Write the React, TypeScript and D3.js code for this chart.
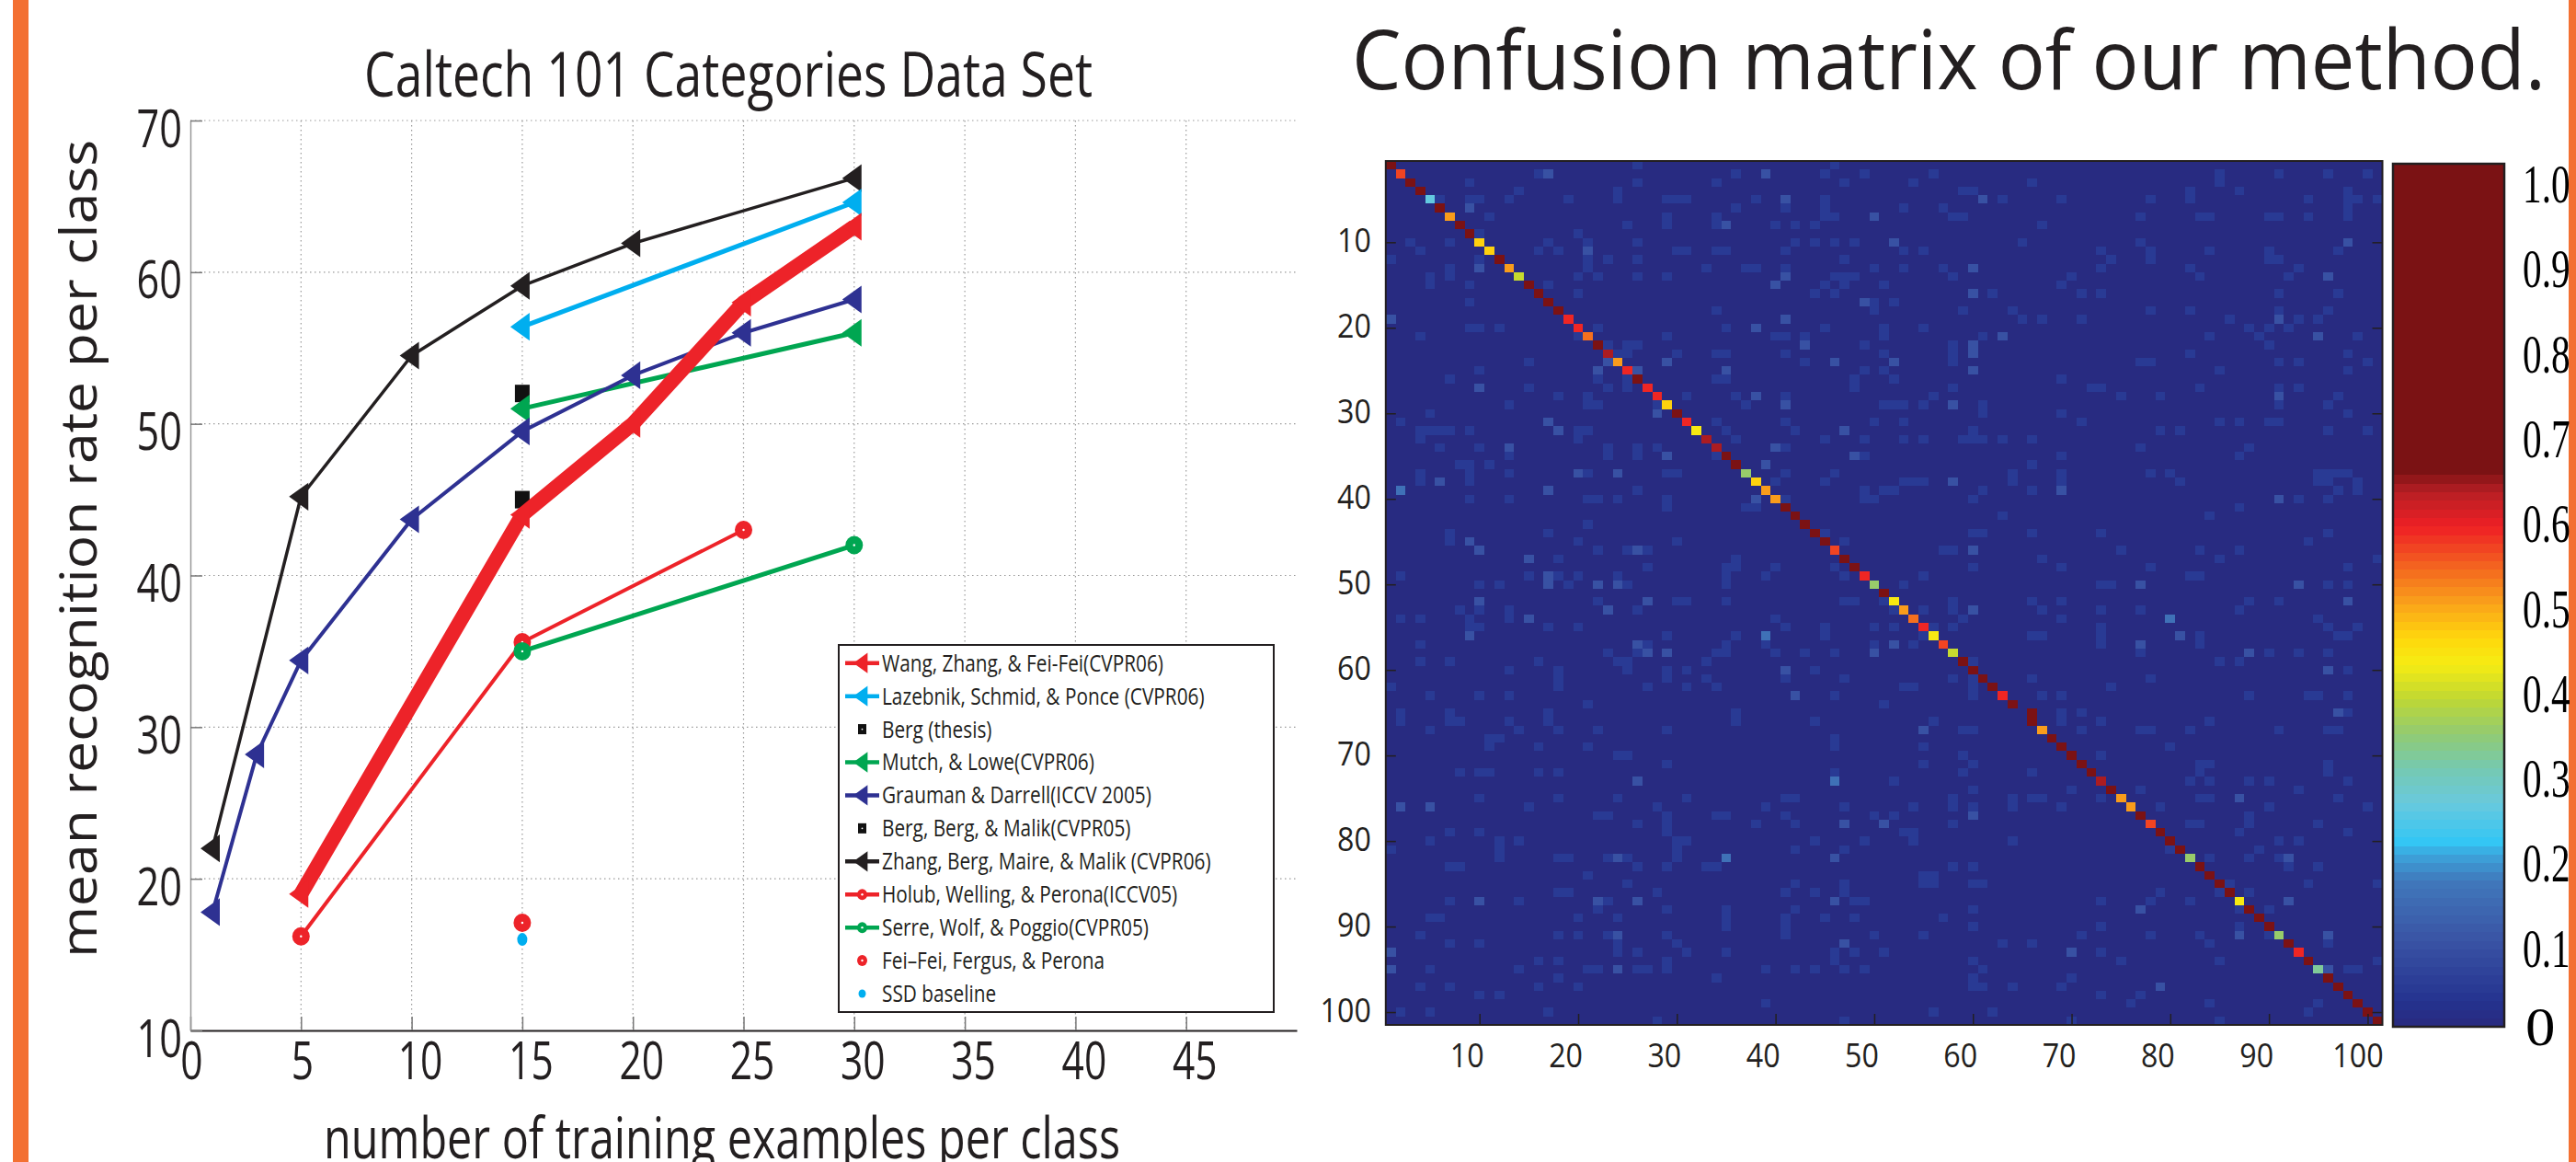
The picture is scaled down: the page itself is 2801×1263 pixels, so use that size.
import React, { useEffect, useRef } from "react";
import * as d3 from "d3";

const WIDTH = 2801;
const HEIGHT = 1263;
const SANS = "'Open Sans', sans-serif";
const SERIF = "'Liberation Serif', serif";

// ---- left chart: recognition rate series
const xTicks = [0, 5, 10, 15, 20, 25, 30, 35, 40, 45];
const yTicks = [10, 20, 30, 40, 50, 60, 70];

const wangX = [5, 15, 20, 25, 30];
const wangY = [19, 44, 50, 58, 63];
const lazebnikX = [15, 30];
const lazebnikY = [56.4, 64.6];
const bergThesisX = [15];
const bergThesisY = [52];
const mutchX = [15, 30];
const mutchY = [51, 56];
const graumanX = [1, 3, 5, 10, 15, 20, 25, 30];
const graumanY = [17.8, 28.2, 34.4, 43.7, 49.5, 53.2, 56, 58.2];
const bergX = [15];
const bergY = [45];
const zhangX = [1, 5, 10, 15, 20, 30];
const zhangY = [22, 45.2, 54.5, 59.1, 61.9, 66.2];
const holubX = [5, 15, 25];
const holubY = [16.2, 35.6, 43];
const serreX = [15, 30];
const serreY = [35, 42];
const feiFeiX = [15];
const feiFeiY = [17.1];
const ssdX = [15];
const ssdY = [16];

const RED = "#ed2329";
const CYAN = "#00aeef";
const BLACK = "#231f20";
const GREEN = "#00a651";
const BLUE = "#2e3192";

// legend order
const series = [
  { name: "Wang, Zhang, & Fei-Fei(CVPR06)", xs: wangX, ys: wangY, color: RED, width: 16, marker: "tri" },
  { name: "Lazebnik, Schmid, & Ponce (CVPR06)", xs: lazebnikX, ys: lazebnikY, color: CYAN, width: 5, marker: "tri" },
  { name: "Berg (thesis)", xs: bergThesisX, ys: bergThesisY, color: "#111", width: 0, marker: "square" },
  { name: "Mutch, & Lowe(CVPR06)", xs: mutchX, ys: mutchY, color: GREEN, width: 5, marker: "tri" },
  { name: "Grauman & Darrell(ICCV 2005)", xs: graumanX, ys: graumanY, color: BLUE, width: 4, marker: "tri" },
  { name: "Berg, Berg, & Malik(CVPR05)", xs: bergX, ys: bergY, color: "#111", width: 0, marker: "square" },
  { name: "Zhang, Berg, Maire, & Malik (CVPR06)", xs: zhangX, ys: zhangY, color: BLACK, width: 3.5, marker: "tri" },
  { name: "Holub, Welling, & Perona(ICCV05)", xs: holubX, ys: holubY, color: RED, width: 4, marker: "dot" },
  { name: "Serre, Wolf, & Poggio(CVPR05)", xs: serreX, ys: serreY, color: GREEN, width: 5, marker: "dot" },
  { name: "Fei\u2013Fei, Fergus, & Perona", xs: feiFeiX, ys: feiFeiY, color: RED, width: 0, marker: "dot" },
  { name: "SSD baseline", xs: ssdX, ys: ssdY, color: CYAN, width: 0, marker: "small" },
];
// paint order on the plot (thick red goes over the squares and the blue line)
const paintOrder = [2, 5, 6, 1, 3, 4, 0, 7, 8, 9, 10];

// ---- right chart: confusion matrix
const CLASSES = 101;
const matrixTicks = [10, 20, 30, 40, 50, 60, 70, 80, 90, 100];
const colorbarLabels = [0, 0.1, 0.2, 0.3, 0.4, 0.5, 0.6, 0.7, 0.8, 0.9, 1];

const cmapStops = [0, 0.03, 0.1, 0.17, 0.2, 0.215, 0.26, 0.3, 0.34, 0.38, 0.42, 0.45, 0.49, 0.53, 0.58, 0.62, 0.645, 1];
const cmapColors = [
  "#29297e", "#24338f", "#3953a4", "#4079bc", "#3ca5dc", "#34c6f4", "#69c9dd", "#75c9b0", "#92cb72",
  "#bfd733", "#f5ec13", "#ffd80c", "#faa31a", "#f4691f", "#ee1f25", "#b71f24", "#7b1214", "#7b1214",
];

// diagonal, row 1 to 101 (row 65 has its peak one column over)
const diagonal = [
  0.8, 0.55, 0.8, 0.8, 0.25, 0.8, 0.49, 0.8, 0.8, 0.45,
  0.45, 0.8, 0.49, 0.38, 0.8, 0.8, 0.8, 0.8, 0.58, 0.58,
  0.52, 0.8, 0.62, 0.49, 0.58, 0.8, 0.58, 0.58, 0.45, 0.8,
  0.58, 0.42, 0.62, 0.62, 0.7, 0.8, 0.34, 0.45, 0.49, 0.49,
  0.8, 0.8, 0.8, 0.8, 0.7, 0.55, 0.8, 0.7, 0.58, 0.34,
  0.8, 0.42, 0.49, 0.52, 0.58, 0.42, 0.55, 0.38, 0.8, 0.64,
  0.7, 0.8, 0.58, 0.8, 0, 0.64, 0.49, 0.8, 0.8, 0.8,
  0.8, 0.8, 0.62, 0.8, 0.49, 0.49, 0.7, 0.55, 0.8, 0.7,
  0.8, 0.34, 0.7, 0.8, 0.8, 0.8, 0.42, 0.8, 0.8, 0.8,
  0.34, 0.8, 0.58, 0.8, 0.31, 0.8, 0.64, 0.8, 0.8, 0.7,
  0.64,
];

// off-diagonal confusions: index is row - 1, entries are columns
const weakByRow = [
  [26, 46],
  [16, 36, 45, 49, 56, 85, 91, 96, 100],
  [9, 26, 34, 47, 54, 66, 85],
  [14, 24, 59, 60, 82, 87, 98],
  [6, 9, 10, 13, 19, 24, 29, 30, 31, 38, 45, 63, 69, 78, 82, 94, 98, 99, 101],
  [36, 41, 45, 53, 57, 98],
  [11, 29, 34, 45, 46, 58, 59, 77, 83, 84, 90, 91, 94, 98],
  [25, 29, 34, 40, 42, 44, 67],
  [10, 20],
  [3, 7, 17, 21, 26, 42, 44, 46, 48, 65, 77],
  [4, 16, 18, 30, 31, 34, 35, 41, 53, 55, 73, 78, 84, 90, 97],
  [1, 10, 21, 23, 26, 47, 74, 78, 90, 91],
  [7, 21, 33, 37, 38, 41, 50, 53, 57, 73, 82, 93],
  [5, 7, 20, 22, 26, 29, 46, 47, 48, 58, 70, 83, 92],
  [5, 9, 17, 45, 47, 51, 69],
  [20, 44, 46, 62, 71, 73, 91, 97],
  [9, 50, 52],
  [34, 50, 59, 64, 78, 82, 91, 96],
  [65, 67, 71, 86, 93, 95],
  [9, 10, 12, 22, 35, 45, 51, 55, 88, 90, 92],
  [4, 20, 29, 40, 41, 43, 51, 61, 84, 89, 99],
  [23, 25, 26, 49, 58, 90],
  [24, 25, 30, 34, 35, 41, 51, 58, 82, 98],
  [15, 43, 58, 77, 78, 91, 93, 100],
  [10, 49, 51, 85, 98],
  [7, 22, 25, 34, 35, 48, 52, 69],
  [15, 23, 25, 48, 58, 72, 73, 83, 91, 93],
  [18, 21, 31, 36, 41, 56, 75, 79, 97],
  [13, 21, 22, 28, 37, 51, 52, 53, 55, 61, 91, 96],
  [5, 61, 69, 98],
  [2, 34, 41, 50, 53, 71, 85, 87, 90, 91],
  [4, 5, 6, 7, 9, 20, 21, 35, 42, 60, 79, 81, 96, 100],
  [4, 20, 36, 45, 49, 53, 55, 59, 60, 61, 63, 66],
  [6, 10, 23, 26, 28, 41, 77, 88],
  [13, 23, 26, 34, 49, 69, 87],
  [8, 9, 11, 66],
  [4, 9, 13, 21, 29, 30, 41, 46, 64, 69, 78, 80, 95, 96, 97, 98],
  [4, 9, 40, 45, 53, 54, 55, 64, 69, 81, 95, 96, 99],
  [26, 49, 51, 52, 61, 66, 97, 99],
  [9, 13, 21, 22, 24, 29, 41, 49, 50, 60, 93, 96],
  [29, 37, 38, 87],
  [63, 84],
  [21],
  [7, 17, 45, 60, 61, 66, 73, 96],
  [7, 20, 30, 47, 94],
  [22, 25, 27, 57, 58, 75, 83, 87],
  [18, 36, 67, 85, 101],
  [27, 35, 36, 40, 46, 60, 69, 78, 98],
  [2, 15, 18, 20, 24, 35, 39, 47, 55, 82, 83],
  [10, 12, 19, 25, 35, 53, 73, 74, 96, 98],
  [],
  [22, 30, 31, 35, 47, 48, 51, 58, 66, 69, 88, 91],
  [8, 10, 13, 26, 52, 55, 58, 67, 73, 77, 87],
  [2, 4, 9, 13, 40, 59, 69, 95],
  [9, 10, 17, 20, 41, 45, 50, 52, 56, 58, 73, 96, 99],
  [29, 36, 45, 55, 66, 67, 73, 83, 97, 98],
  [4, 27, 35, 39, 50, 54, 73, 83],
  [23, 26, 34, 35, 40, 43, 46, 77, 90, 93, 96],
  [4, 7, 16, 24, 25, 33, 60, 85, 87],
  [13, 18, 25, 29, 31, 44, 98],
  [18, 29, 33, 41, 47, 58, 60, 66, 78],
  [1, 18, 27, 31, 34, 53, 54, 60, 74],
  [5, 10, 13, 46, 60, 67, 69, 88, 94, 95, 98],
  [21, 51],
  [2, 7, 17, 36, 69, 71, 98],
  [2, 7, 8, 13, 17, 36, 44, 56, 69, 73, 84],
  [5, 14, 18, 22, 29, 59, 60, 71, 77, 78, 82, 91, 96, 97],
  [11, 12, 46],
  [11, 16, 21, 46, 55, 80],
  [24, 25, 59, 73],
  [29, 55, 60, 83, 84, 96],
  [8, 10, 11, 16, 18, 46, 59, 66, 83, 96],
  [52, 82, 84, 88, 90, 98],
  [60, 70, 77, 93],
  [10, 18, 24, 31, 41, 42, 58, 64, 66, 67, 73, 83, 84, 97],
  [15, 28, 39, 47, 54, 58, 60, 64, 69, 79, 90, 100],
  [22, 23, 29, 34, 35, 41, 50, 52, 88],
  [26, 29, 38, 42, 58, 82, 83, 88, 95],
  [7, 10, 29, 53, 54, 87, 98],
  [5, 12, 14, 30, 31, 44, 49, 54, 64, 91, 93],
  [1, 12, 30, 42, 47, 80, 89],
  [12, 18, 19, 23, 25, 30, 84, 88, 91],
  [7, 8, 26, 29, 33, 34, 58, 60, 92, 95],
  [21, 55, 56],
  [25, 42, 47, 55, 56, 60, 61, 86, 94, 101],
  [18, 19, 28, 41, 44, 47, 79, 85, 88],
  [7, 14, 23, 48, 49, 73, 78, 82],
  [22, 29, 35, 42, 60, 87, 90],
  [5, 6, 20, 24, 35, 41, 45, 48, 57],
  [35, 41, 60, 73, 87],
  [4, 18, 20, 23, 29, 41, 50, 55, 71, 78, 83, 90],
  [7, 10, 24, 30, 63, 66, 84, 96],
  [24, 26, 31, 35, 46, 48, 51, 73],
  [16, 18, 29, 46, 60, 75, 85, 101],
  [5, 14, 21, 22, 26, 27, 29, 39, 42, 44, 47, 49, 61, 98, 99],
  [18, 34, 60, 70],
  [4, 7, 16, 20, 60, 61, 64, 69],
  [10, 12, 73, 77],
  [39, 76, 84, 95],
  [2, 5, 17, 56, 62, 94],
  [28, 47, 70, 85],
];
// stronger ones as [row, col]
const midCells = [
  [2, 17], [2, 39], [5, 41], [5, 61], [6, 9], [7, 50], [8, 35], [10, 52], [10, 98], [11, 21], [13, 10], [13, 60],
  [14, 41], [14, 96], [15, 40], [16, 60], [17, 49], [19, 1], [19, 41], [19, 91], [20, 38], [21, 63], [21, 95],
  [22, 43], [22, 60], [23, 60], [24, 23], [24, 29], [24, 46], [24, 52], [25, 22], [25, 26], [25, 35], [25, 60],
  [27, 10], [28, 38], [28, 91], [29, 41], [29, 58], [30, 28], [31, 17], [32, 18], [32, 47], [34, 13], [34, 40],
  [35, 29], [35, 48], [36, 39], [37, 20], [37, 24], [38, 6], [38, 58], [39, 17], [39, 69], [40, 38], [40, 91],
  [45, 9], [46, 10], [46, 26], [46, 60], [47, 15], [49, 17], [50, 17], [50, 22], [50, 24], [50, 77], [50, 93],
  [52, 10], [52, 27], [52, 98], [53, 23], [53, 60], [54, 15], [56, 9], [56, 81], [57, 26], [57, 52], [57, 77],
  [58, 27], [58, 29], [58, 50], [58, 88], [60, 41], [60, 96], [63, 42], [65, 97], [67, 55], [73, 26], [75, 87],
  [76, 2], [76, 5], [77, 60], [78, 47], [78, 51], [82, 24], [82, 46], [82, 92], [87, 10], [87, 22], [87, 26],
  [87, 46], [87, 92], [88, 77], [91, 24], [91, 87], [91, 96], [92, 47], [93, 1], [93, 70], [95, 1], [95, 24],
  [95, 96], [97, 79],
];
const brightCells = [[39, 2], [54, 80], [56, 39], [73, 46], [82, 35]];
const displacedPeaks = [[65, 66]];

// left-pointing triangle for d3.symbol, stretched taller than wide
const leftTriangle = {
  draw(ctx: any, size: number) {
    const r = Math.sqrt(size);
    ctx.moveTo(-0.62 * r, 0);
    ctx.lineTo(0.38 * r, -0.72 * r);
    ctx.lineTo(0.38 * r, 0.72 * r);
    ctx.closePath();
  },
};

function drawMarker(g: any, kind: string, color: string, px: number, py: number, legend: boolean) {
  if (kind === "tri") {
    const size = legend ? 240 : 440;
    g.append("path")
      .attr("d", d3.symbol().type(leftTriangle).size(size)())
      .attr("transform", `translate(${px},${py})`)
      .attr("fill", color);
  } else if (kind === "square") {
    const w = legend ? 9 : 16;
    const h = legend ? 11 : 19;
    g.append("rect")
      .attr("x", px - w / 2)
      .attr("y", py - h / 2)
      .attr("width", w)
      .attr("height", h)
      .attr("fill", color);
    if (legend) g.append("circle").attr("cx", px).attr("cy", py).attr("r", 0.9).attr("fill", "#fff");
  } else if (kind === "dot") {
    g.append("ellipse")
      .attr("cx", px)
      .attr("cy", py)
      .attr("rx", legend ? 5.5 : 9.5)
      .attr("ry", legend ? 6 : 10)
      .attr("fill", color);
    g.append("circle").attr("cx", px).attr("cy", py).attr("r", 1.2).attr("fill", "#fff");
  } else {
    g.append("ellipse")
      .attr("cx", px)
      .attr("cy", py)
      .attr("rx", legend ? 4 : 5.5)
      .attr("ry", legend ? 4.5 : 7)
      .attr("fill", color);
  }
}

function styleTick(text: any, dx: any, dy: number, scaleX: number) {
  text
    .attr("x", 0)
    .attr("y", 0)
    .attr("dy", 0)
    .attr("transform", (d: number) => `translate(${dx(d)},${dy}) scale(${scaleX},1)`);
}

function drawRatePlot(svg: any) {
  const x = d3.scaleLinear().domain([0, 50]).range([207, 1410]);
  const y = d3.scaleLinear().domain([10, 70]).range([1120, 131]);

  svg
    .append("text")
    .attr("x", 396)
    .attr("y", 105)
    .attr("font-size", 68)
    .attr("font-family", SANS)
    .attr("fill", "#231f20")
    .attr("textLength", 792)
    .attr("lengthAdjust", "spacingAndGlyphs")
    .text("Caltech 101 Categories Data Set");

  // dotted grid
  const grid = svg.append("g").attr("stroke", "#9a9a9a").attr("stroke-width", 1.2).attr("stroke-dasharray", "1.5,3.5");
  grid
    .selectAll("line.v")
    .data(xTicks.slice(1))
    .enter()
    .append("line")
    .attr("x1", (d: number) => x(d))
    .attr("x2", (d: number) => x(d))
    .attr("y1", 131)
    .attr("y2", 1120);
  grid
    .selectAll("line.h")
    .data(yTicks.slice(1))
    .enter()
    .append("line")
    .attr("x1", 207)
    .attr("x2", 1410)
    .attr("y1", (d: number) => y(d))
    .attr("y2", (d: number) => y(d));

  // axes
  const xAxis = svg
    .append("g")
    .attr("transform", "translate(0,1120)")
    .call(d3.axisBottom(x).tickValues(xTicks).tickSize(-15).tickSizeOuter(0).tickFormat(d3.format("d")));
  xAxis.select(".domain").attr("stroke", "#231f20").attr("stroke-width", 2);
  xAxis.selectAll(".tick line").attr("stroke", "#777").attr("stroke-width", 1.5);
  xAxis
    .selectAll("text")
    .attr("font-size", 56)
    .attr("font-family", SANS)
    .attr("fill", "#231f20")
    .call(styleTick, (d: number) => (d < 10 ? 1 : 9), 53, 0.76);

  const yAxis = svg
    .append("g")
    .attr("transform", "translate(207,0)")
    .call(d3.axisLeft(y).tickValues(yTicks).tickSize(-13).tickSizeOuter(0).tickFormat(d3.format("d")));
  yAxis.select(".domain").attr("stroke", "#999").attr("stroke-width", 1.5);
  yAxis.selectAll(".tick line").attr("stroke", "#777").attr("stroke-width", 1.5);
  yAxis
    .selectAll("text")
    .attr("font-size", 57)
    .attr("font-family", SANS)
    .attr("fill", "#231f20")
    .attr("text-anchor", "end")
    .call(styleTick, () => -9, 28, 0.76);

  // series
  paintOrder.forEach((idx) => {
    const s = series[idx];
    const g = svg.append("g");
    if (s.width > 0) {
      const path = d3
        .line<number>()
        .x((d) => x(d))
        .y((_, i) => y(s.ys[i]));
      g.append("path")
        .attr("d", path(s.xs))
        .attr("fill", "none")
        .attr("stroke", s.color)
        .attr("stroke-width", s.width)
        .attr("stroke-linejoin", "round");
    }
    s.xs.forEach((v, i) => drawMarker(g, s.marker, s.color, x(v), y(s.ys[i]), false));
  });

  // legend
  const rowY = d3.scaleLinear().domain([0, series.length - 1]).range([720.7, 1080]);
  const legend = svg.append("g");
  legend
    .append("rect")
    .attr("x", 912)
    .attr("y", 701)
    .attr("width", 473)
    .attr("height", 399)
    .attr("fill", "#fff")
    .attr("stroke", "#231f20")
    .attr("stroke-width", 2);
  series.forEach((s, i) => {
    const g = legend.append("g");
    if (s.width > 0) {
      g.append("line")
        .attr("x1", 919)
        .attr("x2", 956)
        .attr("y1", rowY(i))
        .attr("y2", rowY(i))
        .attr("stroke", s.color)
        .attr("stroke-width", 4.5);
    }
    drawMarker(g, s.marker, s.color, 937.5, rowY(i), true);
    g.append("text")
      .attr("transform", `translate(959,${rowY(i) + 9}) scale(0.8,1)`)
      .attr("font-size", 26)
      .attr("font-family", SANS)
      .attr("fill", "#231f20")
      .text(s.name);
  });

  // axis titles
  svg
    .append("text")
    .attr("transform", "translate(105,1041) rotate(-90)")
    .attr("font-size", 54)
    .attr("font-family", SANS)
    .attr("fill", "#231f20")
    .attr("textLength", 889)
    .attr("lengthAdjust", "spacingAndGlyphs")
    .text("mean recognition rate per class");
  // the slide crops the descenders of this one
  svg
    .append("text")
    .attr("x", 352)
    .attr("y", 1259)
    .attr("font-size", 62)
    .attr("font-family", SANS)
    .attr("fill", "#231f20")
    .attr("textLength", 866)
    .attr("lengthAdjust", "spacingAndGlyphs")
    .text("number of training examples per class");
}

function drawMatrix(svg: any) {
  const x = d3.scaleLinear().domain([0.5, CLASSES + 0.5]).range([1506.8, 1506.8 + CLASSES * 10.73]);
  const y = d3.scaleLinear().domain([0.5, CLASSES + 0.5]).range([175, 1114]);

  const cmapScale = d3.scaleLinear<string>().domain(cmapStops).range(cmapColors).interpolate(d3.interpolateRgb);
  // flat bands, about 100 of them on the reference colorbar
  const steps = 100;
  const color = (v: number) => cmapScale((Math.floor(Math.min(v, 0.999) * steps) + 0.5) / steps);

  svg
    .append("text")
    .attr("x", 1470)
    .attr("y", 97)
    .attr("font-size", 90)
    .attr("font-family", SANS)
    .attr("fill", "#231f20")
    .attr("textLength", 1298)
    .attr("lengthAdjust", "spacingAndGlyphs")
    .text("Confusion matrix of our method.");

  const cells: { row: number; col: number; value: number }[] = [];
  weakByRow.forEach((cols, r) => cols.forEach((c) => cells.push({ row: r + 1, col: c, value: 0.045 })));
  midCells.forEach(([row, col]) => cells.push({ row, col, value: 0.095 }));
  brightCells.forEach(([row, col]) => cells.push({ row, col, value: 0.15 }));
  diagonal.forEach((value, i) => {
    if (value > 0) cells.push({ row: i + 1, col: i + 1, value });
  });
  displacedPeaks.forEach(([row, col]) => cells.push({ row, col, value: 0.8 }));

  const g = svg.append("g").attr("shape-rendering", "crispEdges");
  g.append("rect")
    .attr("x", x(0.5))
    .attr("y", y(0.5))
    .attr("width", x(CLASSES + 0.5) - x(0.5))
    .attr("height", y(CLASSES + 0.5) - y(0.5))
    .attr("fill", color(0));
  g.selectAll("rect.cell")
    .data(cells)
    .enter()
    .append("rect")
    .attr("class", "cell")
    .attr("x", (d: any) => x(d.col - 0.5))
    .attr("y", (d: any) => y(d.row - 0.5))
    .attr("width", x(2) - x(1))
    .attr("height", y(2) - y(1))
    .attr("fill", (d: any) => color(d.value));

  // frame
  svg
    .append("rect")
    .attr("x", x(0.5))
    .attr("y", y(0.5))
    .attr("width", x(CLASSES + 0.5) - x(0.5))
    .attr("height", y(CLASSES + 0.5) - y(0.5))
    .attr("fill", "none")
    .attr("stroke", "#231f20")
    .attr("stroke-width", 2);

  const xAxis = svg
    .append("g")
    .attr("transform", "translate(0,1114)")
    .call(d3.axisBottom(x).tickValues(matrixTicks).tickSize(-12).tickSizeOuter(0).tickFormat(d3.format("d")));
  xAxis.select(".domain").remove();
  xAxis.selectAll(".tick line").attr("stroke", "#231f20").attr("stroke-width", 1.5);
  xAxis
    .selectAll("text")
    .attr("font-size", 37)
    .attr("font-family", SANS)
    .attr("fill", "#231f20")
    .call(styleTick, (d: number) => (d < 100 ? -14 : -11), 46, 0.87);

  const yAxis = svg
    .append("g")
    .attr("transform", `translate(${x(0.5)},0)`)
    .call(d3.axisLeft(y).tickValues(matrixTicks).tickSize(-11).tickSizeOuter(0).tickFormat(d3.format("d")));
  yAxis.select(".domain").remove();
  yAxis.selectAll(".tick line").attr("stroke", "#231f20").attr("stroke-width", 1.5);
  yAxis
    .selectAll("text")
    .attr("font-size", 37)
    .attr("font-family", SANS)
    .attr("fill", "#231f20")
    .attr("text-anchor", "end")
    .call(styleTick, () => -16, 10, 0.87);

  const yAxisRight = svg
    .append("g")
    .attr("transform", `translate(${x(CLASSES + 0.5)},0)`)
    .call(d3.axisRight(y).tickValues(matrixTicks).tickSize(-11).tickSizeOuter(0).tickFormat(() => ""));
  yAxisRight.select(".domain").remove();
  yAxisRight.selectAll(".tick line").attr("stroke", "#231f20").attr("stroke-width", 1.5);

  // colorbar
  const barY = d3.scaleLinear().domain([0, 1]).range([1116, 178]);
  const bar = svg.append("g").attr("shape-rendering", "crispEdges");
  bar
    .selectAll("rect")
    .data(d3.range(steps))
    .enter()
    .append("rect")
    .attr("x", 2602)
    .attr("width", 121)
    .attr("y", (d: number) => barY((d + 1) / steps))
    .attr("height", barY(0) - barY(1 / steps) + 0.5)
    .attr("fill", (d: number) => cmapScale((d + 0.5) / steps));
  svg
    .append("rect")
    .attr("x", 2602)
    .attr("y", 178)
    .attr("width", 121)
    .attr("height", 938)
    .attr("fill", "none")
    .attr("stroke", "#231f20")
    .attr("stroke-width", 2.5);

  const labelY = d3.scaleLinear().domain([0, 1]).range([1143, 220]);
  svg
    .append("g")
    .selectAll("text")
    .data(colorbarLabels)
    .enter()
    .append("text")
    .attr("transform", (d: number) =>
      d === 0 ? `translate(2746,${labelY(d) - 7}) scale(1.1,1)` : `translate(2743,${labelY(d)}) scale(0.7,1)`
    )
    .attr("font-size", 59)
    .attr("font-family", SERIF)
    .attr("fill", "#000")
    .text((d: number) => (d === 0 ? "0" : d3.format(".1f")(d)));
}

export default function App() {
  const svgRef = useRef<SVGSVGElement>(null);

  useEffect(() => {
    const svg = d3.select(svgRef.current);
    svg.selectAll("*").remove();

    svg.append("rect").attr("width", WIDTH).attr("height", HEIGHT).attr("fill", "#fff");
    // orange strips of the slide
    svg.append("rect").attr("x", 14).attr("width", 17).attr("height", HEIGHT).attr("fill", "#f37032");
    svg.append("rect").attr("x", 2793).attr("width", 8).attr("height", HEIGHT).attr("fill", "#f37032");

    drawRatePlot(svg);
    drawMatrix(svg);
  }, []);

  return (
    <svg
      ref={svgRef}
      width={WIDTH}
      height={HEIGHT}
      style={{ position: "absolute", left: 0, top: 0, display: "block" }}
    />
  );
}
